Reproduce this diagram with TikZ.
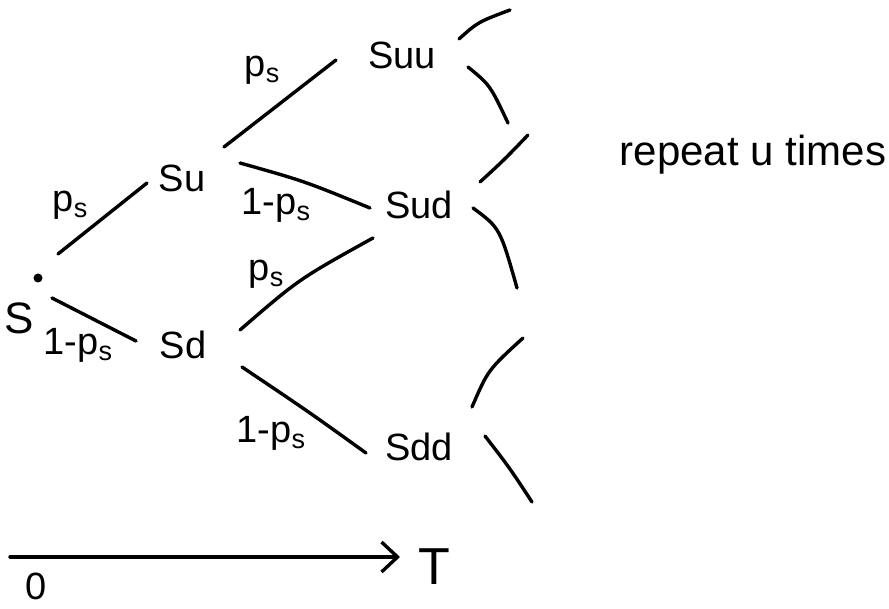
\documentclass[tikz,border=0pt]{standalone}
\usepackage{fontspec}
\setmainfont{Liberation Sans}
\usetikzlibrary{arrows.meta}
\newcommand{\psub}{p\raisebox{-6pt}{\fontsize{27}{27}\selectfont s}}
\begin{document}
\begin{tikzpicture}[x=1pt,y=-1pt,
  big/.style={font=\fontsize{38}{40}\selectfont, inner sep=0},
  lab/.style={font=\fontsize{38}{40}\selectfont, inner sep=0},
  edge/.style={draw, line width=3.4pt, line cap=round}]
\useasboundingbox (0,0) rectangle (889,609);
% nodes
\node[circle, fill, inner sep=0, minimum size=9pt] (dot) at (38,278) {};
\node[big, font=\fontsize{44}{46}\selectfont] (S) at (19,318) {S};
\node[big] (Su) at (182,178) {Su};
\node[big] (Sd) at (183,345) {Sd};
\node[big] (Suu) at (402,55) {Suu};
\node[big] (Sud) at (419,205) {Sud};
\node[big] (Sdd) at (419,447) {Sdd};
\node[big, font=\fontsize{52}{54}\selectfont] (T) at (434,567) {T};
\node[big, font=\fontsize{38}{40}\selectfont] (zero) at (36,586) {0};
\node[big, font=\fontsize{42}{44}\selectfont] (rep) at (753,155) {repeat u times};
% labels
\node[lab] (l1) at (70,205) {\psub};
\node[lab] (l2) at (78,345) {1-\psub};
\node[lab] (l3) at (262,70) {\psub};
\node[lab] (l4) at (276,205) {1-\psub};
\node[lab] (l5) at (266,274) {\psub};
\node[lab] (l6) at (271,433) {1-\psub};
% tree edges
\draw[edge] ([shift={(20,-24)}]dot.center) -- ([shift={(-35,5)}]Su.center);
\draw[edge] ([shift={(14,20)}]dot.center) -- ([shift={(-47,-4)}]Sd.center);
\draw[edge] ([shift={(42,-31)}]Su.center) -- ([shift={(-66,5)}]Suu.center);
\draw[edge] ([shift={(58,-15)}]Su.center) .. controls ([shift={(-115,-24)}]Sud.center) .. ([shift={(-49,3)}]Sud.center);
\draw[edge] ([shift={(57,-15)}]Sd.center) .. controls ([shift={(-120,74)}]Sud.center) .. ([shift={(-46,33)}]Sud.center);
\draw[edge] ([shift={(59,22)}]Sd.center) .. controls ([shift={(-110,-35)}]Sdd.center) .. ([shift={(-53,6)}]Sdd.center);
% repeat stubs
\draw[edge] ([shift={(57,-16)}]Suu.center) .. controls ([shift={(76,-33)}]Suu.center) .. ([shift={(108,-45)}]Suu.center);
\draw[edge] ([shift={(66,12)}]Suu.center) .. controls ([shift={(88,30)}]Suu.center) .. ([shift={(106,68)}]Suu.center);
\draw[edge] ([shift={(61,-23)}]Sud.center) .. controls ([shift={(85,-45)}]Sud.center) .. ([shift={(109,-70)}]Sud.center);
\draw[edge] ([shift={(54,3)}]Sud.center) .. controls ([shift={(81,23)}]Sud.center) .. ([shift={(98,83)}]Sud.center);
\draw[edge] ([shift={(53,-40)}]Sdd.center) .. controls ([shift={(69,-77)}]Sdd.center) .. ([shift={(104,-109)}]Sdd.center);
\draw[edge] ([shift={(66,-11)}]Sdd.center) .. controls ([shift={(90,20)}]Sdd.center) .. ([shift={(113,55)}]Sdd.center);
% time axis
\coordinate (t0) at (10,557);
\draw[edge, -{Straight Barb[length=16pt, width=30pt, line width=3.4pt]}] (t0) -- ([shift={(-34,-10)}]T.center);
\end{tikzpicture}
\end{document}
